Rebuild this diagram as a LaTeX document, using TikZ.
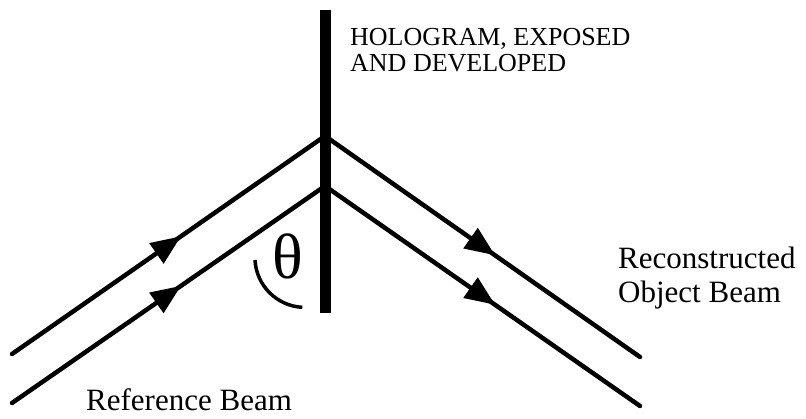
\documentclass[tikz,border=0pt]{standalone}
\usepackage{fontspec}
\setmainfont{Liberation Serif}
\usetikzlibrary{arrows.meta,decorations.markings}

\tikzset{
  beam/.style={line width=4.5, line cap=round, postaction=decorate,
    decoration={markings, mark=at position 0.54 with {\arrow{Triangle[length=30pt,width=24pt]}}}},
  plate/.style={line width=11},
  beamlabel/.style={font=\fontsize{31}{34}\selectfont, inner sep=0pt, align=left}
}

\begin{document}
\begin{tikzpicture}[x=1pt, y=-1pt]
  \useasboundingbox (0,0) rectangle (806,418);

  % Vertices on the hologram
  \coordinate (hitA) at (325,136);
  \coordinate (hitB) at (325,186);
  \coordinate (inA) at (12,354);
  \coordinate (inB) at (12,403);
  \coordinate (outA) at (640,357);
  \coordinate (outB) at (640,406);

  % Reference beam
  \draw[beam] (inA) -- (hitA);
  \draw[beam] (inB) -- (hitB);

  % Reconstructed beam
  \draw[beam] (hitA) -- (outA);
  \draw[beam] (hitB) -- (outB);

  % Hologram plate
  \draw[plate] (325,10) -- (325,313);

  % Angle
  \draw[line width=3.5] (255,260) arc[start angle=177, end angle=93, radius=50];
  \node[font=\fontsize{64}{64}\selectfont, inner sep=0pt] (theta) at (288,256) {θ};

  % Labels
  \node[font=\fontsize{26}{26}\selectfont, inner sep=0pt, align=left, anchor=base west] (holo) at (350,71)
    {HOLOGRAM, EXPOSED\\AND DEVELOPED};
  \node[beamlabel, anchor=base west] (ref) at (86,410) {Reference Beam};
  \node[beamlabel, anchor=base west] (obj) at (618,302) {Reconstructed\\Object Beam};
\end{tikzpicture}
\end{document}
